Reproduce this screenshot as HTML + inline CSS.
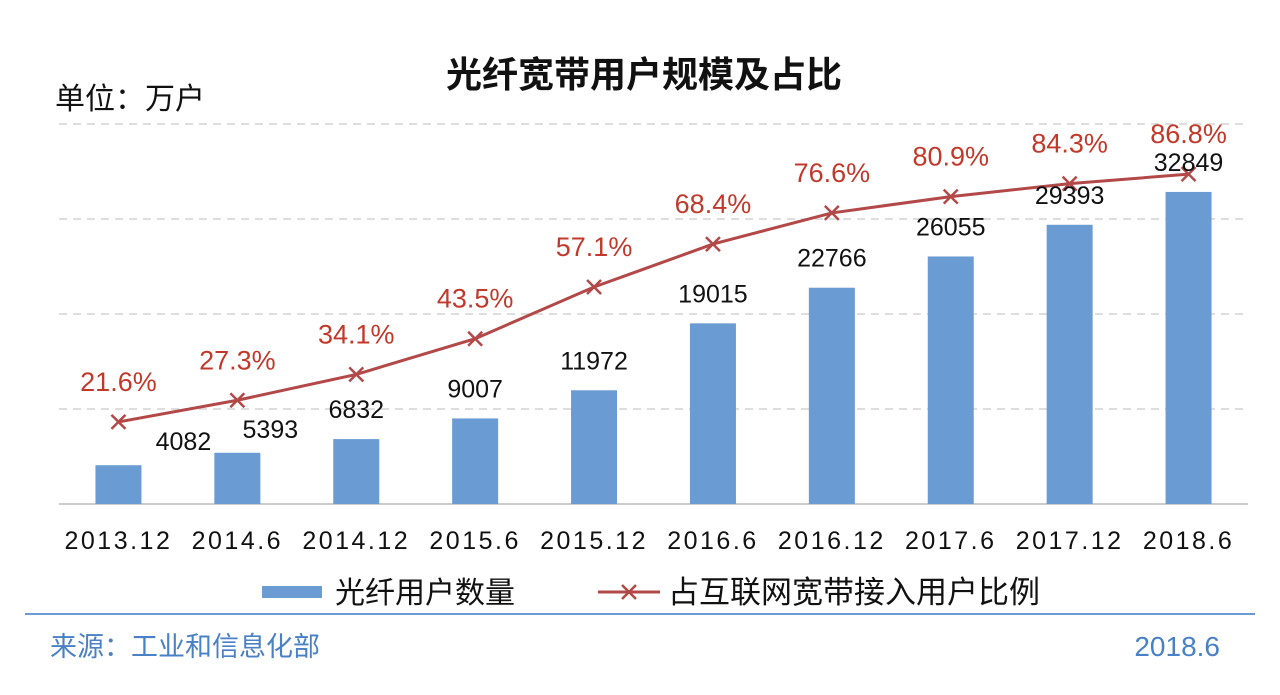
<!DOCTYPE html>
<html><head><meta charset="utf-8"><style>
body{margin:0;background:#fff;width:1280px;height:690px;overflow:hidden;font-family:"Liberation Sans","Noto Sans CJK SC",sans-serif;}
</style></head><body>
<svg id="chart" width="1280" height="690" xmlns="http://www.w3.org/2000/svg" style="font-family:'Liberation Sans','Noto Sans CJK SC',sans-serif">
<text x="644" y="87" text-anchor="middle" font-size="36" font-weight="bold" fill="#111">光纤宽带用户规模及占比</text>
<text x="55" y="109" font-size="30" fill="#111">单位：万户</text>
<g id="grid"></g><g id="bars"></g><g id="line"></g><g id="labels"></g>
<g>
<rect x="262" y="586" width="60" height="12" fill="#6a9bd3"/>
<text x="335" y="603" font-size="30" fill="#111">光纤用户数量</text>
<line x1="598" y1="592" x2="660" y2="592" stroke="#b34848" stroke-width="3"/>
<path d="M622 585 L636 599 M636 585 L622 599" stroke="#b34848" stroke-width="2.5"/>
<text x="668" y="603" font-size="31" fill="#111">占互联网宽带接入用户比例</text>
</g>
<line x1="25" y1="614" x2="1255" y2="614" stroke="#6a9bd3" stroke-width="2"/>
<text x="50" y="656" font-size="27" fill="#4a80c4">来源：工业和信息化部</text>
<text x="1220" y="656" text-anchor="end" font-size="28" fill="#4a80c4">2018.6</text>
</svg>
<script>
const categories=["2013.12","2014.6","2014.12","2015.6","2015.12","2016.6","2016.12","2017.6","2017.12","2018.6"];
const users=[4082,5393,6832,9007,11972,19015,22766,26055,29393,32849];
const ratio=[21.6,27.3,34.1,43.5,57.1,68.4,76.6,80.9,84.3,86.8];
const gridTicks=[0,10000,20000,30000,40000];
const labelDx=[65,33,0,0,0,0,0,0,0,0];
const NS="http://www.w3.org/2000/svg";
const x0=59,x1=1248,yb=504,yt=124;
const step=(x1-x0)/categories.length;
const xs=i=>x0+step*(i+0.5);
const yv=v=>yb-(v/40000)*(yb-yt);
const yp=p=>yb-(p/100)*(yb-yt);
function mk(tag,attrs,parent){const e=document.createElementNS(NS,tag);for(const k in attrs)e.setAttribute(k,attrs[k]);document.getElementById(parent).appendChild(e);return e;}
gridTicks.forEach(t=>{const l=mk('line',{x1:x0,x2:x1,y1:yv(t),y2:yv(t),stroke:t===0?'#bbb':'#d4d4d4','stroke-width':1.5,'stroke-dasharray':t===0?'':'8,6'},'grid');

});
categories.forEach((c,i)=>{
 const b=mk('rect',{x:xs(i)-23,y:yv(users[i]),width:46,height:yb-yv(users[i]),fill:'#6a9bd3'},'bars');
 
 
 const t=mk('text',{x:xs(i)+labelDx[i],y:yv(users[i])-(labelDx[i]?15:21),'text-anchor':'middle','font-size':25,fill:'#111'},'labels');
 t.textContent=users[i];
 
 
 const xl=mk('text',{x:xs(i),y:549,'text-anchor':'middle','font-size':25,fill:'#111','letter-spacing':'2.5'},'labels');
 xl.textContent=c;
 
 
});
let d=ratio.map((p,i)=>(i?'L':'M')+xs(i)+' '+yp(p)).join(' ');
const ln=mk('path',{d:d,fill:'none',stroke:'#b34848','stroke-width':3},'line');


ratio.forEach((p,i)=>{
 const x=xs(i),y=yp(p);
 const m=mk('path',{d:`M${x-7} ${y-7}L${x+7} ${y+7}M${x+7} ${y-7}L${x-7} ${y+7}`,stroke:'#b34848','stroke-width':2.5},'line');
 
 
 const t=mk('text',{x:x,y:y-31,'text-anchor':'middle','font-size':27,fill:'#c0392b'},'labels');
 t.textContent=p.toFixed(1)+'%';
 
 
});
</script>
</body></html>
